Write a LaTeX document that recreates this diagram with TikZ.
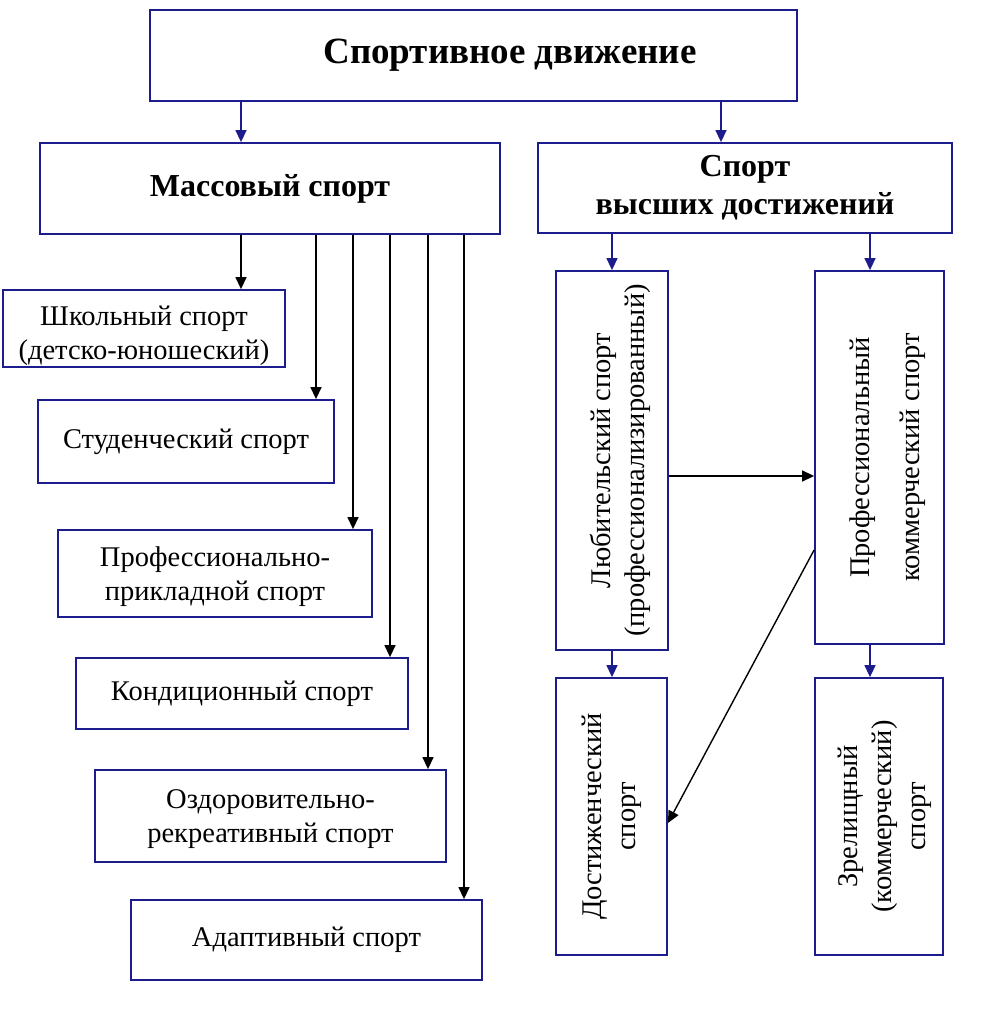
\documentclass[tikz,border=0pt]{standalone}
\usepackage{fontspec}
\setmainfont{Liberation Serif}
\usepackage{graphicx}
\usetikzlibrary{arrows.meta}
\definecolor{navy}{RGB}{28,28,140}
\newcommand{\dn}[2]{\raisebox{-#1}[\height][\depth]{#2}}
\begin{document}
\begin{tikzpicture}[x=1pt,y=-1pt,
  box/.style={draw=navy, line width=1.8pt, inner sep=0pt, align=center,
    font=\fontsize{28.5}{34}\selectfont},
  bbox/.style={box, font=\fontsize{32}{38}\selectfont\bfseries},
  narr/.style={draw=navy, line width=1.4pt, -{Triangle[length=12pt,width=11pt]}},
  karr/.style={draw=black, line width=1.4pt, -{Triangle[length=12pt,width=11pt]}}]
\useasboundingbox (0,0) rectangle (1000,1030);
% boxes
\node[bbox, minimum width=647pt, minimum height=91pt, font=\fontsize{37}{42}\selectfont\bfseries] (top) at (473.5,55.5) {\hspace*{73pt}Спортивное движение};
\node[bbox, minimum width=460pt, minimum height=91pt] (mass) at (270,188.5) {Массовый спорт};
\node[bbox, minimum width=414pt, minimum height=90pt] (sv) at (745,188) {Спорт\\высших достижений};
\node[box, minimum width=282pt, minimum height=77pt] (shk) at (144,328.5) {\dn{7pt}{Школьный спорт}\\\dn{7pt}{(детско-юношеский)}};
\node[box, minimum width=296pt, minimum height=83pt] (stud) at (186,441.5) {Студенческий спорт};
\node[box, minimum width=314pt, minimum height=87pt] (ppr) at (215,573.5) {\dn{3pt}{Профессионально-}\\\dn{3pt}{прикладной спорт}};
\node[box, minimum width=332pt, minimum height=71pt] (kond) at (242,693.5) {Кондиционный спорт};
\node[box, minimum width=351pt, minimum height=92pt] (ozd) at (270.5,816) {\dn{3pt}{Оздоровительно-}\\\dn{3pt}{рекреативный спорт}};
\node[box, minimum width=351pt, minimum height=80pt] (adap) at (306.5,940) {Адаптивный спорт};
\node[box, minimum width=112pt, minimum height=379pt] (lyub) at (612,460.5) {\hspace*{18pt}\rotatebox{90}{\begin{tabular}{@{}c@{}}Любительский спорт\\(профессионализированный)\end{tabular}}};
\node[box, minimum width=129pt, minimum height=373pt] (prof) at (879.5,457.5) {\hspace*{16pt}\rotatebox{90}{\begin{tabular}{@{}c@{}}Профессиональный\\[16pt]коммерческий спорт\end{tabular}}};
\node[box, minimum width=111pt, minimum height=277pt] (dost) at (611.5,816.5) {\rotatebox{90}{\begin{tabular}{@{}c@{}}Достиженческий\\спорт\end{tabular}}};
\node[box, minimum width=128pt, minimum height=277pt] (zrel) at (879,816.5) {\hspace*{12pt}\rotatebox{90}{\begin{tabular}{@{}c@{}}Зрелищный\\(коммерческий)\\спорт\end{tabular}}};
% helper coordinates
\coordinate (xa) at (241,0);
\coordinate (xb) at (721,0);
\coordinate (x1) at (316,0);
\coordinate (x2) at (353,0);
\coordinate (x3) at (390,0);
\coordinate (x4) at (428,0);
\coordinate (x5) at (464,0);
\coordinate (xl) at (612,0);
\coordinate (xr) at (870,0);
\coordinate (yh) at (0,476);
\coordinate (yd1) at (0,550);
\coordinate (yd2) at (0,823);
% navy arrows
\draw[narr] (top.south -| xa) -- (mass.north -| xa);
\draw[narr] (top.south -| xb) -- (sv.north -| xb);
\draw[narr] (sv.south -| xl) -- (lyub.north -| xl);
\draw[narr] (sv.south -| xr) -- (prof.north -| xr);
\draw[narr] (lyub.south -| xl) -- (dost.north -| xl);
\draw[narr] (prof.south -| xr) -- (zrel.north -| xr);
% black arrows from mass
\draw[karr] (mass.south -| xa) -- (shk.north -| xa);
\draw[karr] (mass.south -| x1) -- (stud.north -| x1);
\draw[karr] (mass.south -| x2) -- (ppr.north -| x2);
\draw[karr] (mass.south -| x3) -- (kond.north -| x3);
\draw[karr] (mass.south -| x4) -- (ozd.north -| x4);
\draw[karr] (mass.south -| x5) -- (adap.north -| x5);
% cross arrows
\draw[karr] (lyub.east |- yh) -- (prof.west |- yh);
\draw[karr] (prof.west |- yd1) -- (dost.east |- yd2);
\end{tikzpicture}
\end{document}
